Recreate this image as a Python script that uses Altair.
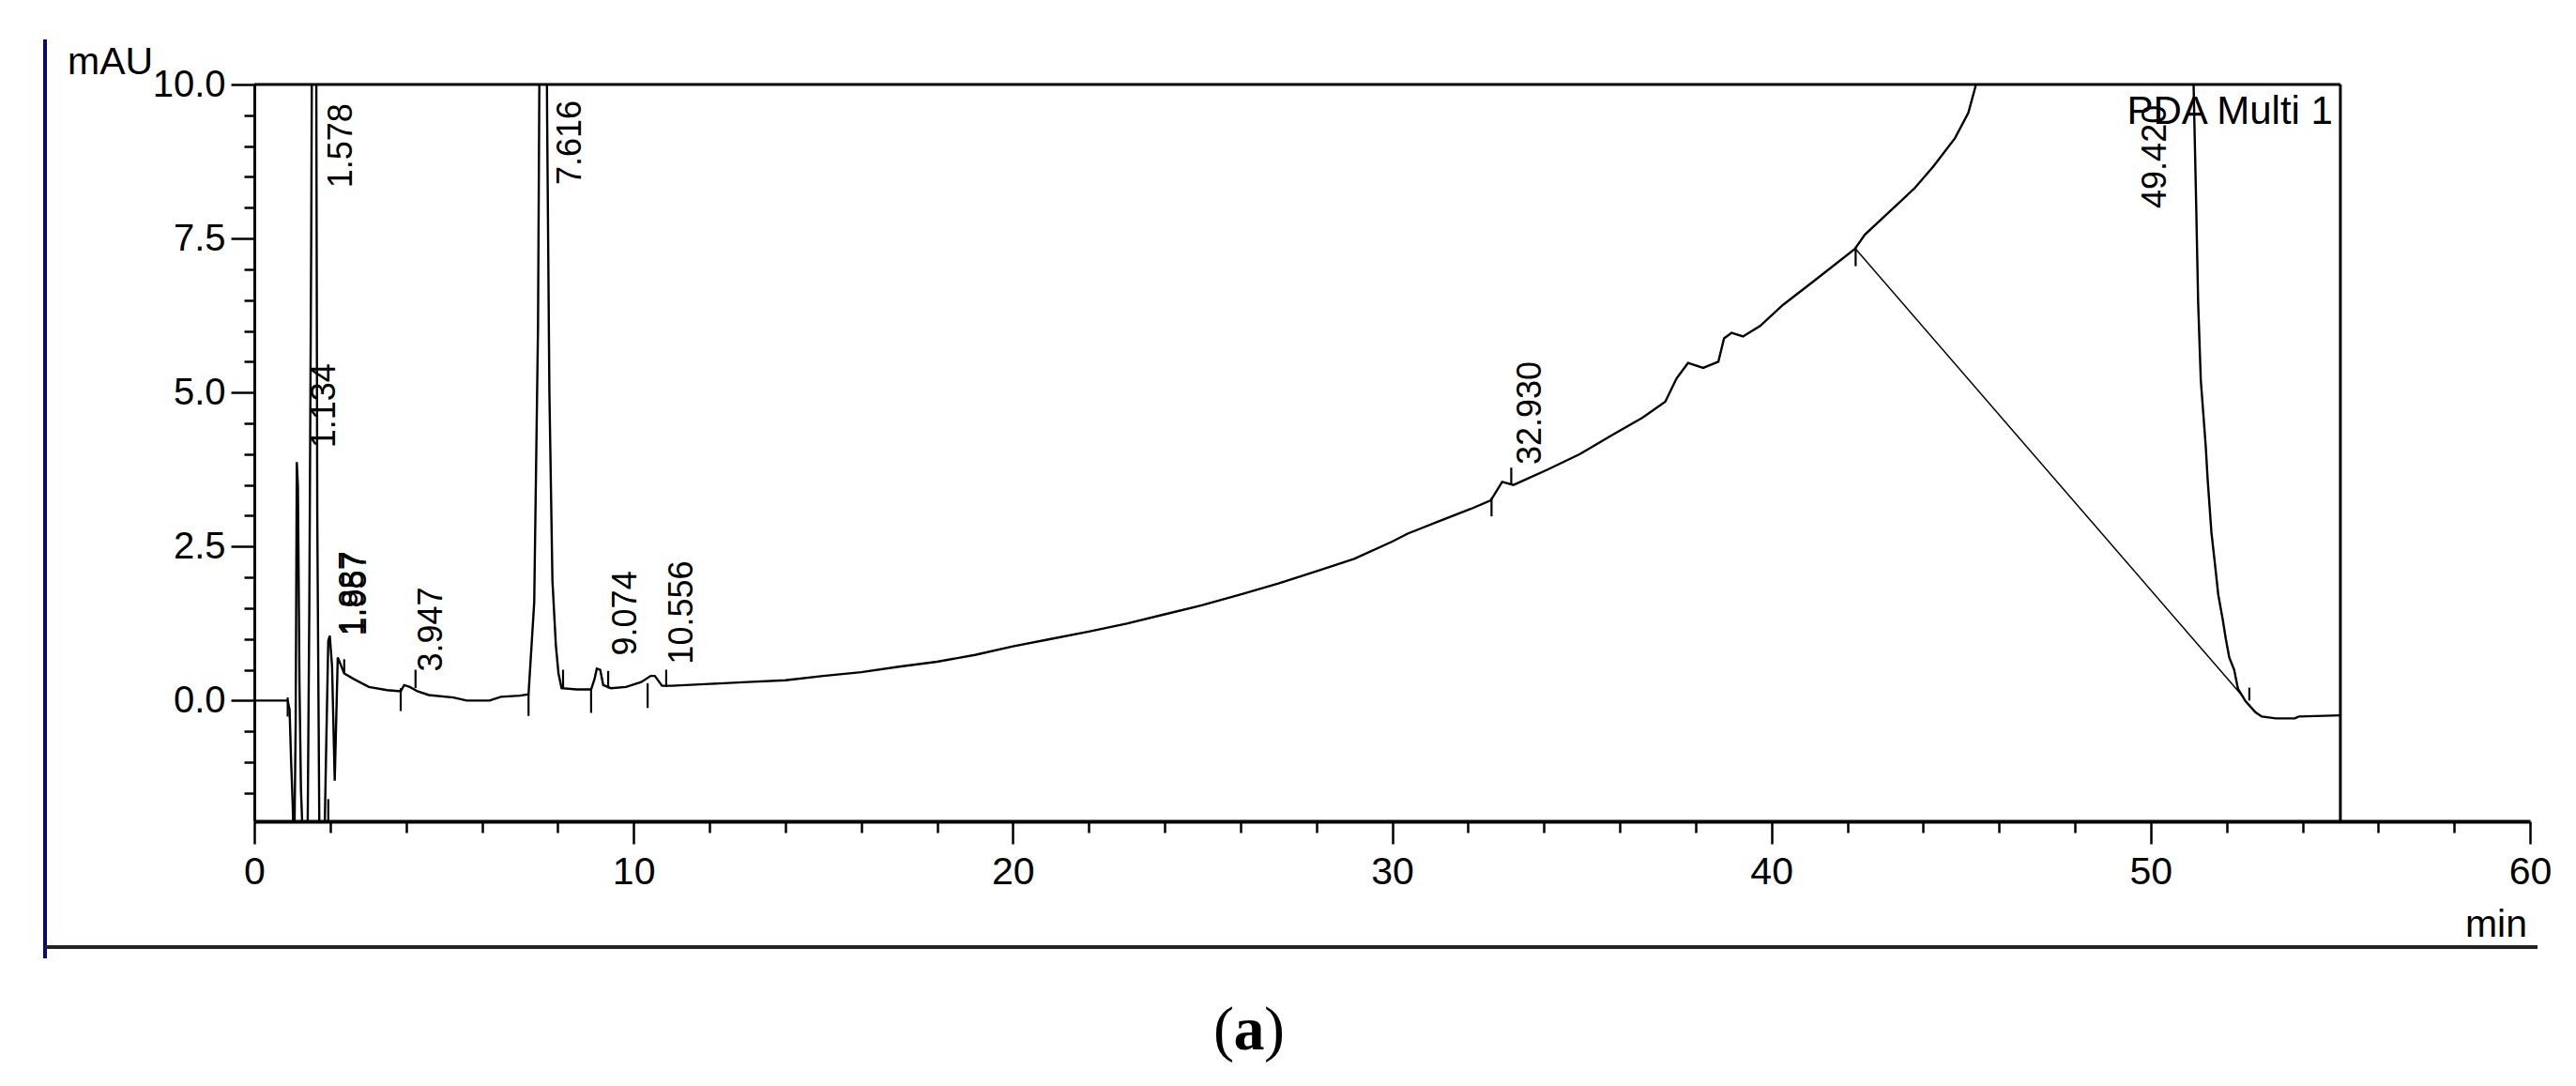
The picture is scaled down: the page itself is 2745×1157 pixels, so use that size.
import altair as alt
import pandas as pd

# ---------------- data ----------------
time_min = [
    0.00, 0.88, 0.93, 0.97, 1.01, 1.05, 1.09, 1.12, 1.15, 1.19, 1.23, 1.30, 1.40,
    1.45, 1.50, 1.54, 1.578, 1.62, 1.66, 1.72, 1.84, 1.90, 1.95, 1.99, 2.05, 2.12,
    2.20, 2.37, 2.62, 3.02, 3.50, 3.86, 3.95, 4.10, 4.30, 4.60, 5.25, 5.60, 6.20,
    6.50, 7.00, 7.23, 7.38, 7.48, 7.55, 7.616, 7.68, 7.72, 7.78, 7.86, 7.95, 8.02,
    8.10, 8.50, 8.88, 8.97, 9.03, 9.12, 9.20, 9.40, 9.80, 10.20, 10.45, 10.56,
    10.75, 11.0, 12.0, 13.0, 14.0, 15.0, 16.0, 17.0, 18.0, 19.0, 20.0, 21.0, 22.0,
    23.0, 24.0, 25.0, 26.0, 27.0, 28.0, 29.0, 30.0, 30.41, 31.23, 32.07, 32.60,
    32.90, 33.20, 34.10, 34.95, 35.80, 36.60, 37.20, 37.50, 37.80, 38.20, 38.60,
    38.75, 38.95, 39.25, 39.70, 40.30, 41.10, 42.20, 42.46, 43.78, 44.27, 44.84,
    45.19, 45.38, 45.60, 47.00, 49.42, 50.80, 51.13, 51.20, 51.25, 51.32, 51.45,
    51.50, 51.60, 51.70, 51.78, 51.90, 51.98, 52.07, 52.20, 52.30, 52.50, 52.76,
    52.93, 53.30, 53.80, 53.90, 55.00,
]
absorbance = [
    0.00, 0.00, -0.15, -0.98, -1.65, -2.60, -0.40, 3.87, 3.48, 0.30, -1.45, -2.60, -2.60,
    1.50, 7.44, 14.0, 40.0, 14.0, 3.00, -2.60, -2.60, -0.60, 0.97, 1.05, 0.55, -1.30,
    0.70, 0.44, 0.35, 0.22, 0.17, 0.15, 0.25, 0.22, 0.15, 0.09, 0.05, 0.00, 0.00,
    0.06, 0.08, 0.10, 1.60, 6.07, 14.0, 40.0, 14.0, 9.47, 5.00, 1.95, 0.90, 0.44,
    0.20, 0.18, 0.18, 0.35, 0.52, 0.50, 0.25, 0.20, 0.22, 0.30, 0.40, 0.40,
    0.24, 0.24, 0.27, 0.30, 0.33, 0.40, 0.46, 0.55, 0.63, 0.74, 0.88, 1.00, 1.12,
    1.25, 1.40, 1.55, 1.72, 1.90, 2.10, 2.30, 2.58, 2.71, 2.91, 3.11, 3.25,
    3.55, 3.50, 3.75, 4.00, 4.31, 4.59, 4.85, 5.23, 5.48, 5.40, 5.50,
    5.88, 5.97, 5.91, 6.08, 6.42, 6.80, 7.33, 7.56, 8.32, 8.67, 9.13,
    9.54, 9.97, 11.5, 25.0, 60.0, 15.0, 10.0, 7.99, 6.46, 5.20, 4.13,
    3.60, 2.73, 2.18, 1.72, 1.31, 1.00, 0.70, 0.50, 0.19, -0.01, -0.19,
    -0.26, -0.29, -0.29, -0.26, -0.24,
]

# integration baseline drawn under the last peak
baseline_t = [42.22, 52.45]
baseline_v = [7.33, 0.05]

# peak retention-time labels (text, peak time, value where the label starts)
peak_text = ["1.134", "1.578", "1.887", "1.957", "3.947", "7.616", "9.074", "10.556", "32.930", "49.420"]
peak_t = [1.134, 1.578, 1.887, 1.957, 3.947, 7.616, 9.074, 10.556, 32.930, 49.420]
peak_label_v = [4.10, 8.32, 1.05, 1.05, 0.47, 8.37, 0.73, 0.59, 3.83, 7.99]

# integration start/end markers (time, from, to)
marker_t = [0.88, 1.95, 3.86, 7.23, 8.88, 10.37, 32.62, 42.22, 2.37, 4.25, 8.14, 9.33, 10.86, 33.14, 52.60]
marker_v1 = [0.05, -1.60, 0.20, 0.10, 0.20, 0.28, 3.29, 7.36, 0.44, 0.20, 0.20, 0.20, 0.22, 3.50, 0.00]
marker_v2 = [-0.26, -1.96, -0.17, -0.25, -0.20, -0.12, 2.99, 7.05, 0.67, 0.50, 0.50, 0.48, 0.50, 3.78, 0.21]

x_ticks = list(range(0, 61, 2))
y_ticks = [-1.5, -1.0, -0.5, 0.0, 0.5, 1.0, 1.5, 2.0, 2.5, 3.0, 3.5, 4.0, 4.5, 5.0,
           5.5, 6.0, 6.5, 7.0, 7.5, 8.0, 8.5, 9.0, 9.5, 10.0]
x_domain = [0, 60]
y_domain = [-1.96, 10.0]
frame_end = 55.0

# ---------------- chart ----------------
W, H = 2425, 785
FONT = "Liberation Sans"

x_scale = alt.Scale(domain=x_domain, nice=False, zero=False)
y_scale = alt.Scale(domain=y_domain, nice=False, zero=False)

x_axis = alt.Axis(
    values=x_ticks,
    labelExpr="datum.value % 10 === 0 ? format(datum.value, 'd') : ''",
    tickSize={"condition": {"test": "datum.value % 10 === 0", "value": 24}, "value": 12},
    tickWidth=2.5, tickColor="black",
    domainWidth=4, domainColor="black",
    labelFont=FONT, labelFontSize=41, labelColor="black",
    labelPadding=10, labelOverlap=False, labelFlush=False,
    grid=False, title=None,
)
y_axis = alt.Axis(
    values=y_ticks,
    labelExpr="abs(datum.value / 2.5 - round(datum.value / 2.5)) < 0.001 ? format(datum.value, '.1f') : ''",
    tickSize={"condition": {"test": "abs(datum.value / 2.5 - round(datum.value / 2.5)) < 0.001", "value": 25}, "value": 11},
    tickWidth=2.5, tickColor="black",
    domainWidth=3, domainColor="black",
    labelFont=FONT, labelFontSize=40, labelColor="black",
    labelPadding=6, labelOverlap=False, labelFlush=False, labelBaseline="middle",
    grid=False, title=None,
)


def X(field):
    return alt.X(field, scale=x_scale, axis=x_axis)


def Y(field):
    return alt.Y(field, scale=y_scale, axis=y_axis)


trace_df = pd.DataFrame({"t": time_min, "v": absorbance, "i": range(len(time_min))})
trace = alt.Chart(trace_df).mark_line(color="black", strokeWidth=2.4, clip=True).encode(
    x=X("t:Q"), y=Y("v:Q"), order=alt.Order("i:Q"),
)

base_df = pd.DataFrame({"t": baseline_t, "v": baseline_v})
base_line = alt.Chart(base_df).mark_line(color="black", strokeWidth=1.5, clip=True).encode(
    x=X("t:Q"), y=Y("v:Q"),
)

mk_df = pd.DataFrame({"t": marker_t, "v1": marker_v1, "v2": marker_v2})
markers = alt.Chart(mk_df).mark_rule(color="black", strokeWidth=2.2, clip=True).encode(
    x=X("t:Q"), y=Y("v1:Q"), y2="v2:Q",
)

lab_df = pd.DataFrame({"s": peak_text, "t": peak_t, "v": peak_label_v})
labels = alt.Chart(lab_df).mark_text(
    angle=270, align="left", baseline="top", dy=12,
    font=FONT, fontSize=36, color="black",
).encode(x=X("t:Q"), y=Y("v:Q"), text="s:N")

frame_df = pd.DataFrame({"t": [x_domain[0]], "x1": [frame_end], "v": [y_domain[0]], "yt": [y_domain[1]]})
frame_top = alt.Chart(frame_df).mark_rule(color="black", strokeWidth=3).encode(
    x=X("t:Q"), x2="x1:Q", y=Y("yt:Q"),
)
frame_right = alt.Chart(frame_df).mark_rule(color="black", strokeWidth=3).encode(
    x=X("x1:Q"), y=Y("v:Q"), y2="yt:Q",
)

pda = alt.Chart(pd.DataFrame({"s": ["PDA Multi 1"], "t": [frame_end]})).mark_text(
    align="right", baseline="alphabetic", dx=-8, font=FONT, fontSize=42, color="black",
).encode(x=X("t:Q"), y=alt.value(42), text="s:N")

mau = alt.Chart(pd.DataFrame({"s": ["mAU"]})).mark_text(
    align="left", baseline="alphabetic", font=FONT, fontSize=41, color="black",
).encode(x=alt.value(-199), y=alt.value(-11), text="s:N")

mins = alt.Chart(pd.DataFrame({"s": ["min"]})).mark_text(
    align="right", baseline="alphabetic", font=FONT, fontSize=41, color="black",
).encode(x=alt.value(2422), y=alt.value(908), text="s:N")

paren_l = alt.Chart(pd.DataFrame({"s": ["("]})).mark_text(
    align="right", baseline="middle", font="Liberation Serif", fontSize=66, color="black",
).encode(x=alt.value(1044), y=alt.value(1008), text="s:N")
letter_a = alt.Chart(pd.DataFrame({"s": ["a"]})).mark_text(
    align="center", baseline="middle", font="Liberation Serif", fontSize=66, fontWeight="bold", color="black",
).encode(x=alt.value(1060), y=alt.value(1008), text="s:N")
paren_r = alt.Chart(pd.DataFrame({"s": [")"]})).mark_text(
    align="left", baseline="middle", font="Liberation Serif", fontSize=66, color="black",
).encode(x=alt.value(1076), y=alt.value(1008), text="s:N")

outer_left = alt.Chart(pd.DataFrame({"a": [0]})).mark_rule(color="#0a0a6e", strokeWidth=4).encode(
    x=alt.value(-223), y=alt.value(-48), y2=alt.value(931))
outer_bottom = alt.Chart(pd.DataFrame({"a": [0]})).mark_rule(color="#222222", strokeWidth=4).encode(
    x=alt.value(-223), x2=alt.value(2433), y=alt.value(919))

chart = alt.layer(
    trace, base_line, markers, labels, frame_top, frame_right, pda, mau, mins,
    paren_l, letter_a, paren_r, outer_left, outer_bottom,
).properties(
    width=W, height=H, autosize="none", background="white",
    padding={"left": 263, "top": 82, "right": 40, "bottom": 260},
).configure_view(stroke=None, strokeWidth=0)

chart.save("out.html", embed_options={"renderer": "svg", "actions": False})
